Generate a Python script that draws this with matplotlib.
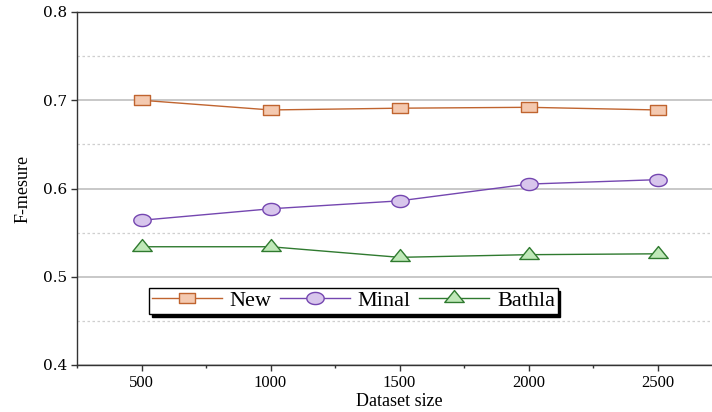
import numpy as np
import matplotlib
matplotlib.use("Agg")
import matplotlib.pyplot as plt
from matplotlib.path import Path
from matplotlib.ticker import MultipleLocator

dataset_size = [500, 1000, 1500, 2000, 2500]
new_vals = [0.700, 0.689, 0.691, 0.692, 0.689]
minal_vals = [0.564, 0.577, 0.586, 0.605, 0.610]
bathla_vals = [0.534, 0.534, 0.522, 0.525, 0.526]
series_names = ["New", "Minal", "Bathla"]

# stretched marker shapes (reference is horizontally stretched)
sq = Path([(-1, -0.68), (1, -0.68), (1, 0.68), (-1, 0.68), (-1, -0.68)],
          [Path.MOVETO, Path.LINETO, Path.LINETO, Path.LINETO, Path.CLOSEPOLY])
t = np.linspace(0, 2 * np.pi, 60)
ell = Path(np.column_stack([np.cos(t), 0.70 * np.sin(t)]), closed=True)
h = 1.23
tri = Path([(0, h * 2 / 3), (-1, -h / 3), (1, -h / 3), (0, h * 2 / 3)],
           [Path.MOVETO, Path.LINETO, Path.LINETO, Path.CLOSEPOLY])

serif = ["Liberation Serif", "DejaVu Serif"]

fig = plt.figure(figsize=(7.12, 4.12), dpi=100)
ax = fig.add_axes([77 / 712, 1 - 365 / 412, 645 / 712, 353 / 412])

ax.plot(dataset_size, new_vals, color="#c0642f", lw=1.0, marker=sq, ms=11,
        mfc="#f4c9b0", mec="#c0642f", mew=1.0, label=series_names[0], zorder=3)
ax.plot(dataset_size, minal_vals, color="#7446b0", lw=1.0, marker=ell, ms=12.5,
        mfc="#d8c6ec", mec="#7446b0", mew=1.0, label=series_names[1], zorder=3)
ax.plot(dataset_size, bathla_vals, color="#2f7a2f", lw=1.0, marker=tri, ms=14,
        mfc="#bfe8b8", mec="#2f7a2f", mew=1.0, label=series_names[2], zorder=3)

ax.set_xlim(250, 2750)
ax.set_ylim(0.4, 0.8)
ax.set_xticks(dataset_size)
ax.xaxis.set_minor_locator(MultipleLocator(250))
ax.yaxis.set_minor_locator(MultipleLocator(0.05))
ax.set_yticks([0.4, 0.5, 0.6, 0.7, 0.8])
ax.set_yticklabels(["0.4", "0.5", "0.6", "0.7", "0.8"])

ax.grid(True, which="major", axis="y", color="#c4c4c4", lw=1.3, ls="-", zorder=0)
ax.grid(True, which="minor", axis="y", color="#cfcfcf", lw=0.9, ls=(0, (2, 2)), zorder=0)
ax.set_axisbelow(True)

ax.spines["right"].set_visible(False)
for s in ["left", "bottom", "top"]:
    ax.spines[s].set_color("#333333")
    ax.spines[s].set_linewidth(1.0)

ax.tick_params(axis="both", which="major", direction="out", length=4, width=1, colors="#333333")
ax.tick_params(axis="x", which="minor", direction="out", length=2, width=1, colors="#333333")
ax.tick_params(axis="y", which="minor", length=0)
ax.tick_params(axis="x", labelcolor="black", pad=3)
ax.tick_params(axis="y", labelcolor="black", pad=3)
for lab in ax.get_xticklabels():
    lab.set_family(serif)
    lab.set_fontsize(12)
for lab in ax.get_yticklabels():
    lab.set_family(["DejaVu Serif"])
    lab.set_fontsize(11)

ax.set_xlabel("Dataset size", family=serif, fontsize=13, labelpad=2)
ax.set_ylabel("F-mesure", family=serif, fontsize=13, labelpad=8)

leg = ax.legend(loc="upper left", bbox_to_anchor=((149 - 77) / 645, (365 - 288) / 353),
                borderaxespad=0, ncol=3, frameon=True, fancybox=False,
                shadow={"color": "black", "alpha": 1.0},
                prop={"family": serif, "size": 16},
                handlelength=3.15, handletextpad=0.35, columnspacing=0.38,
                borderpad=0.12, framealpha=1.0, edgecolor="black")
leg.get_frame().set_linewidth(1.0)

fig.savefig("out.png", dpi=100)
